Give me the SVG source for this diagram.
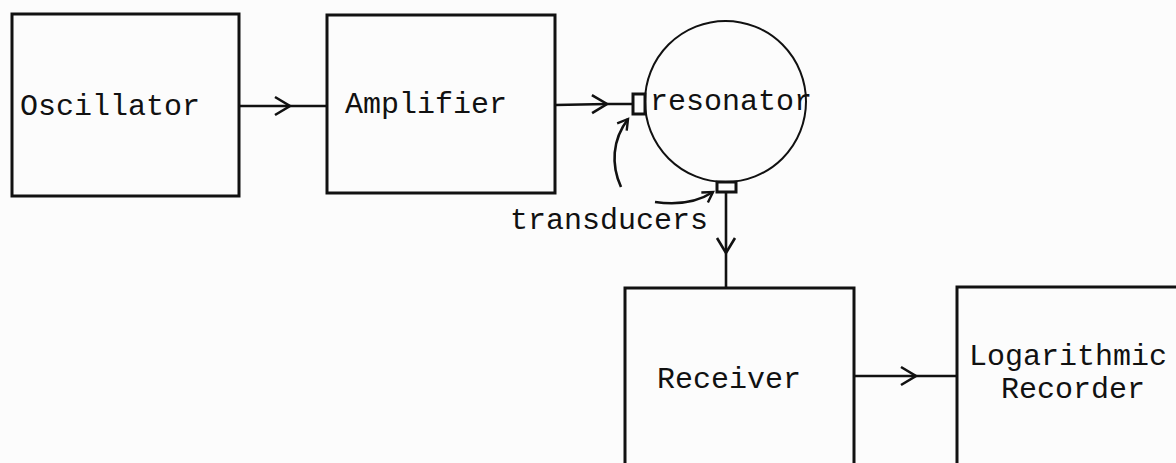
<svg xmlns="http://www.w3.org/2000/svg" width="1176" height="463" viewBox="0 0 1176 463">
<style>
.box{fill:none;stroke:#111;stroke-width:3}
.ln{fill:none;stroke:#111;stroke-width:2.6}
.thin{fill:none;stroke:#111;stroke-width:2}
.t{font-family:"Liberation Mono","Courier New",monospace;font-size:30px;fill:#111}
</style>
<defs>
<marker id="chev" markerUnits="userSpaceOnUse" orient="auto" overflow="visible" refX="0" refY="0" markerWidth="20" markerHeight="20">
<path d="M-15,-9 L0,0 L-15,9" fill="none" stroke="#111" stroke-width="2.6"/>
</marker>
<marker id="small" markerUnits="userSpaceOnUse" orient="auto" overflow="visible" refX="0" refY="0" markerWidth="14" markerHeight="14">
<path d="M-10,-6 L0,0 L-10,6" fill="none" stroke="#111" stroke-width="2.4"/>
</marker>
</defs>
<rect width="1176" height="463" fill="#fcfcfc"/>
<g id="oscillator">
<rect class="box" x="12" y="14" width="227" height="182"/>
<text class="t" x="20" y="115">Oscillator</text>
</g>
<g id="amplifier">
<rect class="box" x="327" y="15" width="228" height="178"/>
<text class="t" x="345" y="113">Amplifier</text>
</g>
<g id="resonator">
<circle class="thin" cx="725.5" cy="101.5" r="80.5"/>
<rect class="box" x="633" y="94" width="12" height="20" fill="#fcfcfc"/>
<rect class="box" x="717" y="182" width="19" height="10" fill="#fcfcfc"/>
<text class="t" x="650" y="110">resonator</text>
</g>
<g id="transducers-label">
<text class="t" x="510" y="229">transducers</text>
</g>
<g id="receiver">
<rect class="box" x="625" y="288" width="229" height="190"/>
<text class="t" x="657" y="388">Receiver</text>
</g>
<g id="recorder">
<rect class="box" x="957" y="287" width="240" height="190"/>
<text class="t" x="969" y="365">Logarithmic</text>
<text class="t" x="1001" y="398">Recorder</text>
</g>
<g id="connectors">
<path class="ln" d="M239 106 L290 106 L327 106" marker-mid="url(#chev)"/>
<path class="ln" d="M555 105 L607 104 L633 104" marker-mid="url(#chev)"/>
<path class="ln" d="M726 192 L726 253 L726 288" marker-mid="url(#chev)"/>
<path class="ln" d="M854 376 L916 376 L957 376" marker-mid="url(#chev)"/>
<path class="ln" d="M621 187 C611 165, 612 140, 628 119" marker-end="url(#small)"/>
<path class="ln" d="M655 202 Q690 207 713 192" marker-end="url(#small)"/>
</g>
</svg>
